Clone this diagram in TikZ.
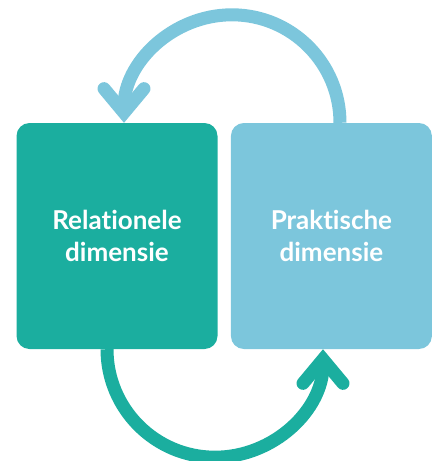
\documentclass[tikz,border=0pt]{standalone}
\usepackage{fontspec}
\setmainfont{Lato}[Ligatures={NoCommon,NoRare}]
\usepackage{tikz}
\usetikzlibrary{arrows.meta}
\usetikzlibrary{positioning}

\definecolor{dimteal}{HTML}{1BAE9F}
\definecolor{dimblue}{HTML}{7CC6DC}

\begin{document}
\begin{tikzpicture}[x=1pt,y=-1pt,
        dimbox/.style={rectangle,rounded corners=13pt,minimum width=201pt,
            minimum height=226pt,align=center,text=white,
            font=\fontsize{26}{32}\selectfont\bfseries},
        loop/.style={line width=13pt,
            -{Straight Barb[length=24pt,width=40pt,line cap=round,line join=miter]}}]
        \useasboundingbox (0,0) rectangle (433,461);

        % Boxes
        \node [dimbox,fill=dimteal] (rel) at (117,236) {Relationele\\dimensie};
        \node [dimbox,fill=dimblue,right=13pt of rel] (prak) {Praktische\\dimensie};

        % Arrows
        \coordinate (topstart) at (prak.north -| 340,0);
        \coordinate (botstart) at (rel.south -| 107,0);
        \draw [loop,dimblue] (topstart) arc [start angle=0,end angle=-180,radius=108];
        \draw [loop,dimteal] (botstart) arc [start angle=180,end angle=0,radius=108];

    \end{tikzpicture}
\end{document}
